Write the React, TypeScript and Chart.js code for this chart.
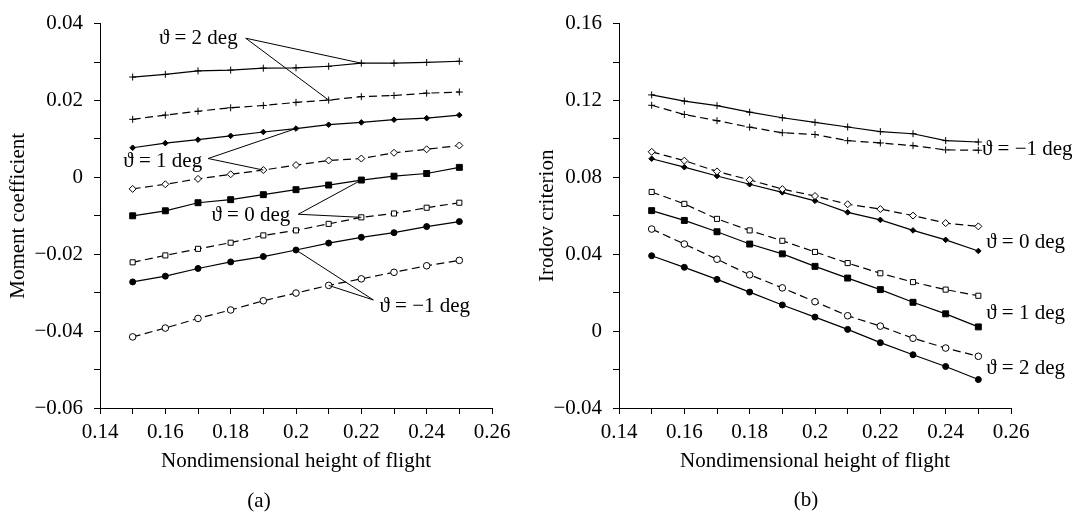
import React, { useEffect, useRef } from 'react';
import { Chart, registerables } from 'chart.js';

Chart.register(...registerables);

// ---------- data ----------
const heights = [0.15, 0.16, 0.17, 0.18, 0.19, 0.2, 0.21, 0.22, 0.23, 0.24, 0.25];

// (a) Moment coefficient
const moment2Solid = [0.0261, 0.0268, 0.0277, 0.0279, 0.0284, 0.0285, 0.0289, 0.0297, 0.0297, 0.0299, 0.0302];
const moment2Dashed = [0.0151, 0.0162, 0.0172, 0.0181, 0.0187, 0.0195, 0.0201, 0.021, 0.0213, 0.0219, 0.0222];
const moment1Solid = [0.0077, 0.0089, 0.0098, 0.0108, 0.0118, 0.0127, 0.0137, 0.0143, 0.015, 0.0154, 0.0162];
const moment1Dashed = [-0.003, -0.0018, -0.0004, 0.0008, 0.0019, 0.0032, 0.0044, 0.0049, 0.0064, 0.0073, 0.0083];
const moment0Solid = [-0.01, -0.0087, -0.0066, -0.0058, -0.0045, -0.0032, -0.002, -0.0007, 0.0003, 0.001, 0.0026];
const moment0Dashed = [-0.0221, -0.0203, -0.0186, -0.017, -0.0151, -0.0138, -0.0121, -0.0104, -0.0094, -0.0079, -0.0066];
const momentM1Solid = [-0.0272, -0.0257, -0.0237, -0.022, -0.0206, -0.0189, -0.0171, -0.0156, -0.0144, -0.0128, -0.0115];
const momentM1Dashed = [-0.0415, -0.0392, -0.0367, -0.0345, -0.0321, -0.0301, -0.0281, -0.0264, -0.0247, -0.023, -0.0216];

// (b) Irodov criterion
const irodovM1Solid = [0.1229, 0.1197, 0.1173, 0.1139, 0.111, 0.1086, 0.1062, 0.1038, 0.1027, 0.0991, 0.0984];
const irodovM1Dashed = [0.1175, 0.1127, 0.1095, 0.1061, 0.1032, 0.1023, 0.0991, 0.0979, 0.0965, 0.0943, 0.0941];
const irodov0Dashed = [0.0933, 0.0887, 0.0831, 0.0787, 0.0739, 0.0703, 0.066, 0.0635, 0.0601, 0.0562, 0.0545];
const irodov0Solid = [0.0897, 0.0853, 0.0807, 0.0764, 0.0722, 0.0678, 0.0618, 0.0579, 0.0524, 0.0475, 0.0417];
const irodov1Dashed = [0.0724, 0.0662, 0.0584, 0.0524, 0.047, 0.0412, 0.0354, 0.0301, 0.0255, 0.0216, 0.0184];
const irodov1Solid = [0.0627, 0.0576, 0.0517, 0.0453, 0.0402, 0.0337, 0.0276, 0.0216, 0.015, 0.009, 0.0022];
const irodov2Dashed = [0.0531, 0.0453, 0.0374, 0.0293, 0.0225, 0.0153, 0.008, 0.0026, -0.0037, -0.0088, -0.0131];
const irodov2Solid = [0.0392, 0.0332, 0.0269, 0.0203, 0.0136, 0.0073, 0.0009, -0.006, -0.0123, -0.0184, -0.0252];

// annotation labels (anchor in data units)
const momentNotes = [
  { text: 'ϑ = 2 deg', x: 0.1846, y: 0.0362, dx: -8, dy: 0, align: 'right', targets: [[0, 7], [1, 6]] },
  { text: 'ϑ = 1 deg', x: 0.1731, y: 0.0049, dx: -6, dy: 2.5, align: 'right', targets: [[2, 5], [3, 4]] },
  { text: 'ϑ = 0 deg', x: 0.2007, y: -0.0096, dx: -8, dy: 1, align: 'right', targets: [[4, 7], [5, 7]] },
  { text: 'ϑ = −1 deg', x: 0.2237, y: -0.0319, dx: 6, dy: 7, align: 'left', targets: [[6, 5], [7, 6]] },
];
const irodovNotes = [
  { text: 'ϑ = −1 deg', x: 0.2511, y: 0.0945, dx: 0, dy: 0, align: 'left', targets: [] },
  { text: 'ϑ = 0 deg', x: 0.2524, y: 0.046, dx: 0, dy: 0, align: 'left', targets: [] },
  { text: 'ϑ = 1 deg', x: 0.2524, y: 0.0093, dx: 0, dy: 0, align: 'left', targets: [] },
  { text: 'ϑ = 2 deg', x: 0.2524, y: -0.0194, dx: 0, dy: 0, align: 'left', targets: [] },
];

const FONT = '"Liberation Serif", "DejaVu Serif", serif';
const FS = 21;

type Style = 'plus' | 'diamondFilled' | 'diamondOpen' | 'squareFilled' | 'squareOpen' | 'circleFilled' | 'circleOpen';

function makeDataset(values: number[], style: Style, dashed: boolean) {
  const base: any = {
    data: heights.map((h, i) => ({ x: h, y: values[i] })),
    borderColor: '#000',
    borderWidth: 1.2,
    borderDash: dashed ? [8, 4.5] : [],
    tension: 0,
    fill: false,
    pointBorderColor: '#000',
    pointBorderWidth: 1,
  };
  switch (style) {
    case 'plus':
      return { ...base, pointStyle: 'cross', pointRadius: 3.5, pointBackgroundColor: '#000' };
    case 'diamondFilled':
      return { ...base, pointStyle: 'rectRot', pointRadius: 2.8, pointBackgroundColor: '#000' };
    case 'diamondOpen':
      return { ...base, pointStyle: 'rectRot', pointRadius: 3.5, pointBackgroundColor: '#fff' };
    case 'squareFilled':
      return { ...base, pointStyle: 'rect', pointRadius: 4.2, pointBackgroundColor: '#000' };
    case 'squareOpen':
      return { ...base, pointStyle: 'rect', pointRadius: 3.6, pointBackgroundColor: '#fff' };
    case 'circleFilled':
      return { ...base, pointStyle: 'circle', pointRadius: 3, pointBackgroundColor: '#000' };
    case 'circleOpen':
      return { ...base, pointStyle: 'circle', pointRadius: 3.3, pointBackgroundColor: '#fff' };
  }
}

function fmt(n: number) {
  if (Math.abs(n) < 1e-9) return '0';
  return (n < 0 ? '−' : '') + String(parseFloat(Math.abs(n).toFixed(2)));
}

function notesPlugin(notes: any[], caption: string, capX: number, capY: number) {
  return {
    id: 'notes',
    afterDatasetsDraw(chart: any) {
      const { ctx } = chart;
      const xs = chart.scales.x;
      const ys = chart.scales.y;
      ctx.save();
      ctx.strokeStyle = '#000';
      ctx.fillStyle = '#000';
      ctx.lineWidth = 1;
      ctx.setLineDash([]);
      ctx.font = `${FS}px ${FONT}`;
      ctx.textBaseline = 'middle';
      for (const n of notes) {
        const ax = xs.getPixelForValue(n.x);
        const ay = ys.getPixelForValue(n.y);
        for (const [di, pi] of n.targets) {
          const p = chart.data.datasets[di].data[pi];
          ctx.beginPath();
          ctx.moveTo(ax, ay);
          ctx.lineTo(xs.getPixelForValue(p.x), ys.getPixelForValue(p.y));
          ctx.stroke();
        }
        ctx.textAlign = n.align;
        ctx.fillText(n.text, ax + n.dx, ay + n.dy);
      }
      ctx.textAlign = 'center';
      ctx.fillText(caption, capX, capY);
      ctx.restore();
    },
  };
}

function axisCommon() {
  return {
    grid: { display: true, drawOnChartArea: false, drawTicks: true, tickLength: 6, color: '#000', lineWidth: 1 },
    border: { display: true, color: '#000', width: 1 },
  };
}

function buildConfig(opts: {
  datasets: any[];
  yMin: number; yMax: number; yStep: number; yLabelEvery: number;
  yTitle: string; yWidth: number; titlePad: number;
  notes: any[]; caption: string; capX: number; capY: number;
  padRight: number;
}) {
  return {
    type: 'line',
    data: { datasets: opts.datasets },
    options: {
      animation: false,
      responsive: false,
      devicePixelRatio: 1,
      layout: { padding: { top: 17, right: opts.padRight, bottom: 0, left: 0 } },
      plugins: { legend: { display: false }, tooltip: { enabled: false } },
      scales: {
        x: {
          type: 'linear',
          min: 0.14,
          max: 0.26,
          ...axisCommon(),
          ticks: {
            stepSize: 0.01,
            autoSkip: false,
            maxRotation: 0,
            padding: 6,
            color: '#000',
            font: { family: FONT, size: FS },
            callback: (v: number) => (Math.round(v * 100) % 2 === 0 ? fmt(v) : ''),
          },
          title: {
            display: true,
            text: 'Nondimensional height of flight',
            color: '#000',
            font: { family: FONT, size: FS },
            padding: { top: 0, bottom: 40.5 },
          },
          afterFit: (s: any) => { s.height = 107; },
        },
        y: {
          type: 'linear',
          min: opts.yMin,
          max: opts.yMax,
          ...axisCommon(),
          ticks: {
            stepSize: opts.yStep,
            autoSkip: false,
            padding: 11,
            color: '#000',
            font: { family: FONT, size: FS },
            callback: (v: number) => (Math.round(v * 100) % opts.yLabelEvery === 0 ? fmt(v) : ''),
          },
          title: {
            display: true,
            text: opts.yTitle,
            color: '#000',
            font: { family: FONT, size: FS },
            padding: { top: opts.titlePad, bottom: 0 },
          },
          afterFit: (s: any) => { s.width = opts.yWidth; },
        },
      },
    },
    plugins: [notesPlugin(opts.notes, opts.caption, opts.capX, opts.capY)],
  } as any;
}

function ChartCanvas({ config, left, width }: { config: any; left: number; width: number }) {
  const ref = useRef<HTMLCanvasElement | null>(null);
  useEffect(() => {
    if (!ref.current) return;
    const chart = new Chart(ref.current, config());
    return () => chart.destroy();
  }, []);
  return (
    <canvas
      ref={ref}
      width={width}
      height={515}
      style={{ position: 'absolute', left, top: 0, width, height: 515 }}
    />
  );
}

const leftConfig = () =>
  buildConfig({
    datasets: [
      makeDataset(moment2Solid, 'plus', false),
      makeDataset(moment2Dashed, 'plus', true),
      makeDataset(moment1Solid, 'diamondFilled', false),
      makeDataset(moment1Dashed, 'diamondOpen', true),
      makeDataset(moment0Solid, 'squareFilled', false),
      makeDataset(moment0Dashed, 'squareOpen', true),
      makeDataset(momentM1Solid, 'circleFilled', false),
      makeDataset(momentM1Dashed, 'circleOpen', true),
    ],
    yMin: -0.06,
    yMax: 0.04,
    yStep: 0.01,
    yLabelEvery: 2,
    yTitle: 'Moment coefficient',
    yWidth: 100,
    titlePad: 5.4,
    notes: momentNotes,
    caption: '(a)',
    capX: 259,
    capY: 501,
    padRight: 38,
  });

const rightConfig = () =>
  buildConfig({
    datasets: [
      makeDataset(irodovM1Solid, 'plus', false),
      makeDataset(irodovM1Dashed, 'plus', true),
      makeDataset(irodov0Dashed, 'diamondOpen', true),
      makeDataset(irodov0Solid, 'diamondFilled', false),
      makeDataset(irodov1Dashed, 'squareOpen', true),
      makeDataset(irodov1Solid, 'squareFilled', false),
      makeDataset(irodov2Dashed, 'circleOpen', true),
      makeDataset(irodov2Solid, 'circleFilled', false),
    ],
    yMin: -0.04,
    yMax: 0.16,
    yStep: 0.02,
    yLabelEvery: 4,
    yTitle: 'Irodov criterion',
    yWidth: 89,
    titlePad: 4.9,
    notes: irodovNotes,
    caption: '(b)',
    capX: 276,
    capY: 500,
    padRight: 70,
  });

export default function App() {
  return (
    <div style={{ position: 'absolute', left: 0, top: 0, width: 1081, height: 515, background: '#fff' }}>
      <ChartCanvas config={leftConfig} left={0} width={530} />
      <ChartCanvas config={rightConfig} left={530} width={551} />
    </div>
  );
}
